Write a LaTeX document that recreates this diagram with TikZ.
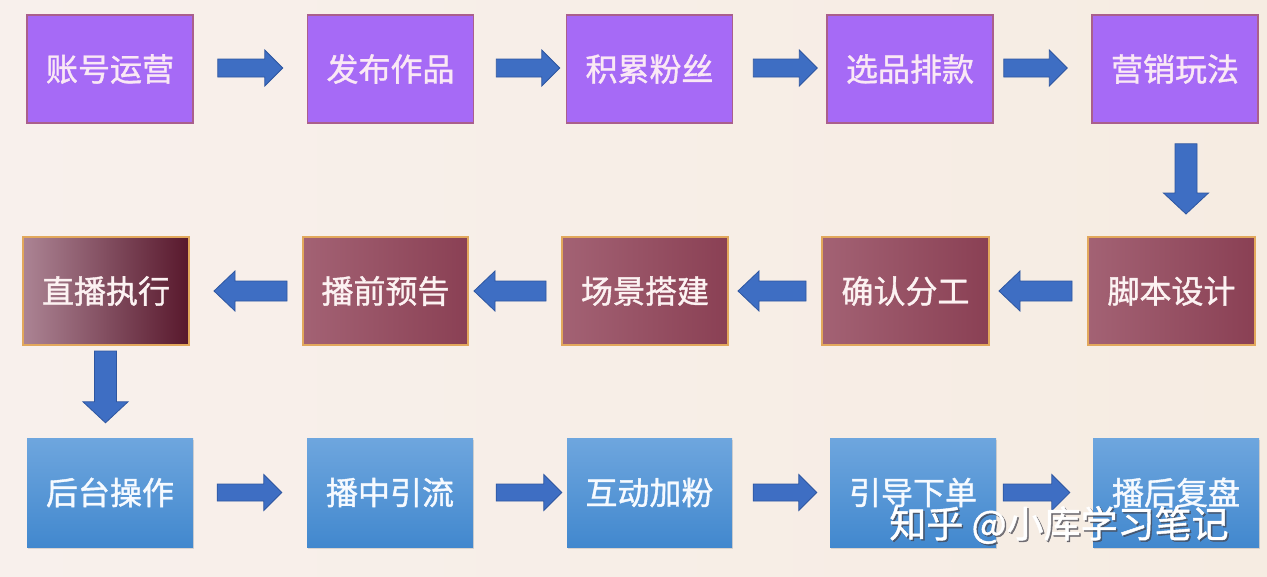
\documentclass[tikz,border=0pt]{standalone}
\usepackage{fontspec}
\setmainfont{Noto Sans CJK SC}
\newfontfamily\boxfont{Noto Sans CJK SC}[FakeBold=1.2]
\usetikzlibrary{calc,shadows}
\definecolor{bgl}{RGB}{248,240,236}
\definecolor{bgr}{RGB}{246,236,226}
\definecolor{pfill}{RGB}{166,106,246}
\definecolor{pedge}{RGB}{170,95,140}
\definecolor{ptext}{RGB}{250,232,245}
\definecolor{rl}{RGB}{163,98,116}
\definecolor{rr}{RGB}{138,64,84}
\definecolor{zl}{RGB}{172,132,148}
\definecolor{zr}{RGB}{88,24,44}
\definecolor{rgold}{RGB}{226,168,92}
\definecolor{rtext}{RGB}{252,242,242}
\definecolor{bt}{RGB}{110,166,222}
\definecolor{bb}{RGB}{66,136,206}
\definecolor{btext}{RGB}{246,250,255}
\definecolor{arrfill}{RGB}{62,110,195}
\definecolor{arredge}{RGB}{46,86,160}
\definecolor{wmshadow}{RGB}{70,70,80}
\tikzset{
  sg/.store in=\arrsg, eg/.store in=\arreg,
  bw/.store in=\arrbw, bh/.store in=\arrbh, bl/.store in=\arrbl,
  sg=0pt, eg=0pt, bw=9pt, bh=18pt, bl=18pt,
  barrow/.style={fill=arrfill, draw=arredge, line width=0.8pt, line join=miter,
    to path={
      ($(\tikztostart)!\arrsg!(\tikztotarget)$) coordinate (bS)
      ($(\tikztotarget)!\arreg!(\tikztostart)$) coordinate (bT)
      ($(bS)!\arrbw!90:(bT)$)
      -- ($(bT)!\arrbl!(bS)!\arrbw!90:(bT)$)
      -- ($(bT)!\arrbl!(bS)!\arrbh!90:(bT)$)
      -- (bT)
      -- ($(bT)!\arrbl!(bS)!\arrbh!-90:(bT)$)
      -- ($(bT)!\arrbl!(bS)!\arrbw!-90:(bT)$)
      -- ($(bS)!\arrbw!-90:(bT)$) -- cycle
    }},
  boxbase/.style={minimum width=166pt, minimum height=108pt, inner sep=0pt,
    font=\boxfont\fontsize{32}{38}\selectfont},
  pbox/.style={boxbase, draw=pedge, line width=1.5pt, fill=pfill, text=ptext},
  rbox/.style={boxbase, draw=rgold, line width=2pt, left color=rl, right color=rr, text=rtext},
  zbox/.style={boxbase, draw=rgold, line width=2pt, left color=zl, right color=zr, text=rtext},
  bbox/.style={boxbase, top color=bt, bottom color=bb, text=btext,
    drop shadow={opacity=0.25, shadow xshift=1pt, shadow yshift=-2pt}},
  row2arrow/.style={bw=10pt, bh=20pt, bl=21pt},
  varrow/.style={bw=11pt, bh=22.5pt, bl=21pt},
  wmfont/.style={font=\boxfont\fontsize{37}{44}\selectfont},
}
\begin{document}
\begin{tikzpicture}[x=1pt,y=-1pt]
\shade[left color=bgl, right color=bgr] (0,0) rectangle (1267,576);
\useasboundingbox (0,0) rectangle (1267,576);
% row 1
\node[pbox] (zh) at (110,69) {账号运营};
\node[pbox] (fb) at (390.5,69) {发布作品};
\node[pbox] (jl) at (649.5,69) {积累粉丝};
\node[pbox] (xp) at (910,69) {选品排款};
\node[pbox] (yx) at (1175,69) {营销玩法};
% row 2
\node[zbox] (zb) at (106,291) {直播执行};
\node[rbox, minimum width=165pt] (bq) at (385.5,291) {播前预告};
\node[rbox] (cj) at (645,291) {场景搭建};
\node[rbox, minimum width=167pt] (qr) at (905.5,291) {确认分工};
\node[rbox, minimum width=167pt] (jb) at (1171.5,291) {脚本设计};
% row 3
\node[bbox, minimum height=109pt] (ht) at (110,492.5) {后台操作};
\node[bbox, minimum height=109pt] (bz) at (390,492.5) {播中引流};
\node[bbox, minimum height=109pt, minimum width=165pt] (hd) at (649.5,492.5) {互动加粉};
\node[bbox, minimum height=109pt] (yd) at (913,492.5) {引导下单};
\node[bbox, minimum height=109pt] (bf) at (1176,492.5) {播后复盘};
% arrows row 1
\draw[barrow, sg=24pt, eg=24pt] ([yshift=1pt]zh.east) to ([yshift=1pt]fb.west);
\draw[barrow, sg=22pt, eg=6pt] ([yshift=1pt]fb.east) to ([yshift=1pt]jl.west);
\draw[barrow, sg=20pt, eg=9pt] ([yshift=1pt]jl.east) to ([yshift=1pt]xp.west);
\draw[barrow, sg=10pt, eg=24pt] ([yshift=1pt]xp.east) to ([yshift=1pt]yx.west);
% vertical 1
\draw[barrow, varrow, sg=20pt, eg=22pt] ([xshift=11pt]yx.south) to ([xshift=14.5pt]jb.north);
% arrows row 2 (leftwards)
\draw[barrow, row2arrow, sg=15pt, eg=9pt] (jb.west) to (qr.east);
\draw[barrow, row2arrow, sg=15pt, eg=9pt] (qr.west) to (cj.east);
\draw[barrow, row2arrow, sg=15pt, eg=5pt] (cj.west) to (bq.east);
\draw[barrow, row2arrow, sg=15pt, eg=24pt] (bq.west) to (zb.east);
% vertical 2
\draw[barrow, varrow, sg=5pt, eg=15pt] ([xshift=-0.5pt]zb.south) to ([xshift=-4.5pt]ht.north);
% arrows row 3
\draw[barrow, bw=8.5pt, sg=24pt, eg=25pt] (ht.east) to (bz.west);
\draw[barrow, bw=8.5pt, sg=23pt, eg=5pt] (bz.east) to (hd.west);
\draw[barrow, bw=8.5pt, sg=21pt, eg=13pt] (hd.east) to (yd.west);
\draw[barrow, bw=8.5pt, sg=7pt, eg=23pt] (yd.east) to (bf.west);
% watermark
\node[wmfont, text=wmshadow, opacity=0.7] (wms) at (1060.5,526.5) {知乎 @小库学习笔记};
\node[wmfont, text=white] (wm) at (1059,525) {知乎 @小库学习笔记};
\end{tikzpicture}
\end{document}
